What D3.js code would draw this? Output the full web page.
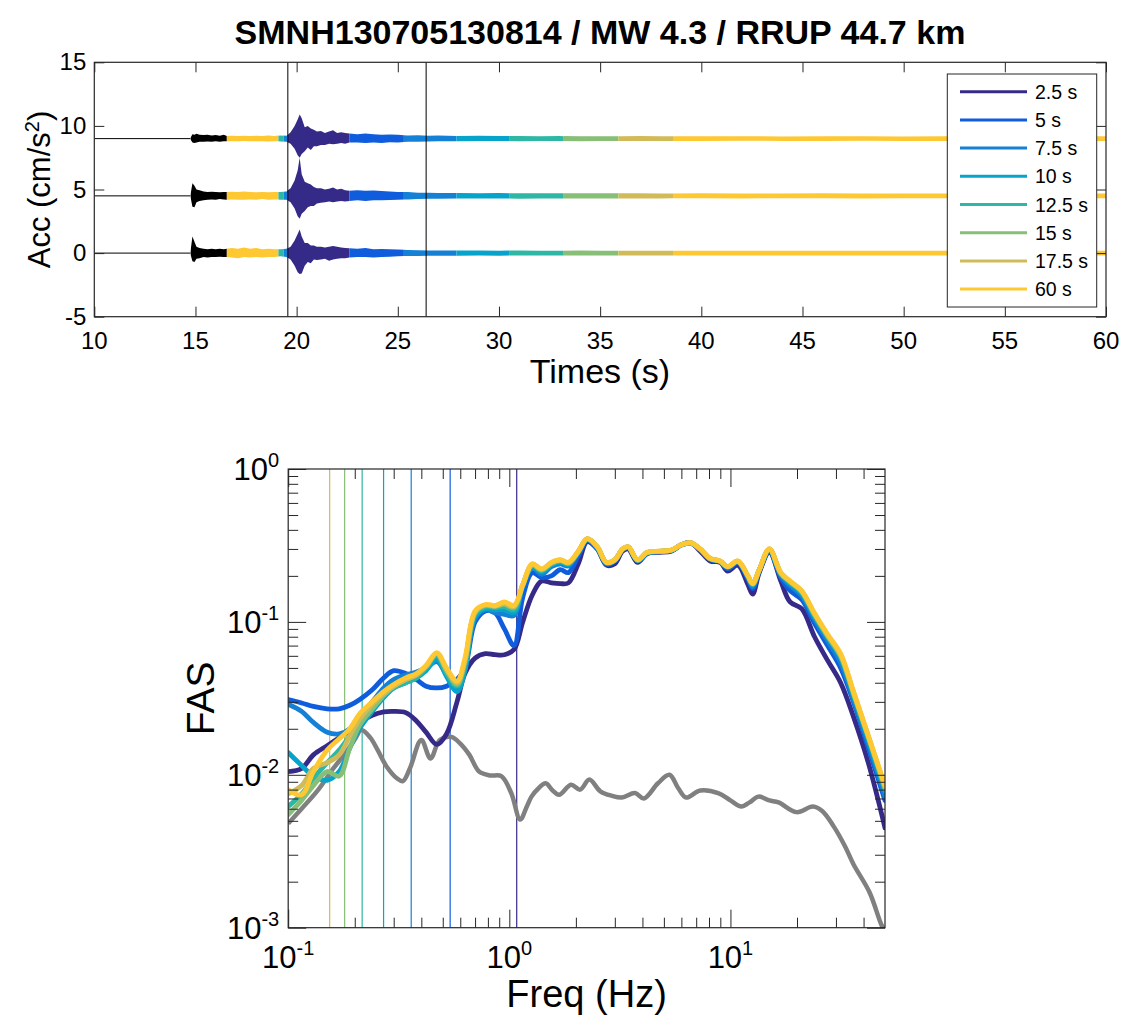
<!DOCTYPE html>
<html><head><meta charset="utf-8">
<script src="https://cdn.jsdelivr.net/npm/d3@7"></script>
<style>
body{margin:0;background:#fff}
text{font-family:"Liberation Sans",Arial,Helvetica,sans-serif;fill:#000}
</style>
</head><body>
<svg id="c" width="1125" height="1015"></svg>
<script>
// ---------------- DATA ----------------
const titleText = "SMNH130705130814 / MW 4.3 / RRUP 44.7 km";
const windowLabels = ["2.5 s","5 s","7.5 s","10 s","12.5 s","15 s","17.5 s","60 s"];
const windowColors = ["#352a87","#0f5cdd","#1481d6","#06a4ca","#2eb7a4","#87bf77","#d1bb59","#fec832"];

// top panel
const timeTicks = [10,15,20,25,30,35,40,45,50,55,60];
const accTicks = [-5,0,5,10,15];
const traceOffsets = [9, 4.5, 0];
const quietSpan = [10, 14.75];
const markerTimes = [19.565, 26.4];
// colour segments along the traces (-1 = raw black signal, otherwise window index)
const segStart = [14.75,16.55,19.1,19.35,19.565,22.6,25.3,27.9,30.5,33.2,35.9,38.6];
const segEnd   = [16.55,19.1,19.35,19.565,22.6,25.3,27.9,30.5,33.2,35.9,38.6,60];
const segWindow= [-1,7,4,2,0,1,2,3,4,5,6,7];

const envT = [14.75,14.85,14.95,15.05,15.2,15.4,15.6,15.8,16.0,16.2,16.4,16.55,16.8,17.1,17.4,17.7,18.0,18.3,18.6,18.9,19.2,19.5,19.7,19.9,20.05,20.15,20.25,20.4,20.55,20.7,20.85,21.0,21.2,21.4,21.6,21.8,22.0,22.2,22.4,22.6,23.0,23.4,23.8,24.2,24.6,25.0,25.5,26.0,26.5,27,28,29,30,31,32,33,34,35,36,37,38,40,42,44,46,48,50,52,54,56,58,60];
const envUp0 = [.05,.35,.3,.38,.3,.28,.3,.25,.28,.22,.3,.2, .22,.2,.22,.2,.22,.2,.25,.2,.25,.22, .5,1.0,1.5,1.9,1.6,.9,1.0,.8,.7,.55,.6,.45,.55,.65,.45,.5,.45,.4, .35,.4,.35,.3,.32,.3,.25,.26,.22,.24, .2,.22,.2,.2,.18,.2,.18,.19,.18,.2,.18,.18,.19,.17,.18,.18,.17,.18,.18,.17,.18,.18];
const envDn0 = [.05,.3,.35,.3,.25,.25,.22,.25,.2,.24,.2,.2, .2,.2,.18,.2,.2,.2,.22,.2,.22,.25, .4,.8,1.3,1.5,1.2,1.0,.7,.9,.6,.6,.5,.5,.4,.45,.4,.35,.4,.3, .3,.35,.3,.35,.28,.3,.25,.24,.22,.2, .2,.18,.18,.2,.18,.18,.2,.18,.18,.18,.19,.18,.17,.18,.18,.17,.18,.18,.17,.18,.18,.18];
const envUp1 = [.05,1.0,.8,.5,.45,.35,.3,.32,.3,.28,.3,.3, .32,.3,.35,.3,.28,.3,.28,.3,.3,.35, .6,1.2,2.0,3.0,1.7,1.1,1.0,.9,.7,.6,.6,.5,.55,.65,.5,.55,.45,.4, .45,.4,.42,.38,.35,.3,.3,.25,.25,.22, .22,.2,.22,.2,.2,.2,.2,.2,.2,.2,.19,.2,.19,.19,.2,.19,.19,.19,.2,.19,.19,.19];
const envDn1 = [.05,.85,.9,.5,.4,.35,.3,.28,.3,.25,.28,.3, .28,.3,.3,.28,.3,.25,.3,.28,.3,.3, .5,1.0,1.6,1.8,1.4,1.2,.9,.8,.8,.6,.55,.5,.45,.5,.45,.4,.45,.4, .35,.4,.35,.35,.32,.3,.28,.25,.22,.22, .2,.2,.2,.22,.2,.2,.2,.2,.2,.2,.2,.19,.2,.19,.19,.2,.19,.19,.19,.19,.2,.19];
const envUp2 = [.08,1.3,.9,.5,.4,.35,.3,.35,.3,.35,.3,.35, .4,.35,.45,.35,.4,.3,.35,.3,.3,.35, .5,1.0,1.5,1.85,1.3,.8,.8,.6,.6,.5,.5,.45,.5,.55,.5,.45,.4,.38, .35,.4,.3,.32,.3,.28,.25,.22,.2,.2, .2,.2,.19,.2,.18,.19,.2,.18,.19,.18,.19,.18,.18,.19,.18,.18,.19,.18,.18,.18,.19,.18];
const envDn2 = [.08,.65,.7,.45,.4,.3,.35,.3,.3,.28,.3,.3, .35,.4,.3,.35,.3,.35,.3,.3,.25,.3, .5,1.0,1.5,1.65,1.6,1.0,.7,.8,.5,.55,.5,.45,.6,.5,.45,.4,.4,.35, .3,.3,.35,.3,.28,.25,.22,.22,.2,.2, .2,.19,.2,.18,.19,.18,.19,.18,.18,.19,.18,.18,.19,.18,.18,.18,.18,.19,.18,.18,.18,.18];

// bottom panel
const fasXMajor = [0.1, 1, 10];
const fasYMajor = [0.001, 0.01, 0.1, 1];
const windowFreq = [1.08, 0.54, 0.36, 0.27, 0.216, 0.18, 0.154];
const freq = [0.1,0.115,0.13,0.15,0.17,0.19,0.21,0.24,0.27,0.3,0.34,0.38,0.42,0.47,0.52,0.58,0.63,0.7,0.78,0.86,0.95,1.05,1.15,1.27,1.4,1.55,1.7,1.85,2.05,2.25,2.5,2.75,3.0,3.25,3.45,3.8,4.2,4.8,5.4,6.0,6.6,7.3,8.1,9.0,9.7,10.8,12.0,12.6,13.5,15.0,16.9,18.6,21,24,27.5,31.5,36,42,50];
const fas2p5 = [0.0105,0.0110,0.0135,0.0155,0.0175,0.0195,0.022,0.0245,0.0258,0.026,0.0255,0.0225,0.019,0.0158,0.0185,0.030,0.046,0.058,0.062,0.061,0.061,0.066,0.100,0.150,0.185,0.180,0.178,0.180,0.240,0.335,0.300,0.235,0.240,0.290,0.300,0.245,0.280,0.285,0.290,0.320,0.330,0.290,0.250,0.245,0.215,0.235,0.175,0.152,0.210,0.285,0.185,0.135,0.122,0.080,0.056,0.040,0.024,0.012,0.0045];
const fas5 = [0.031,0.0295,0.028,0.027,0.027,0.0285,0.031,0.036,0.043,0.048,0.046,0.042,0.038,0.037,0.038,0.042,0.050,0.100,0.118,0.115,0.090,0.070,0.145,0.210,0.195,0.200,0.220,0.210,0.270,0.340,0.300,0.238,0.250,0.295,0.305,0.250,0.280,0.288,0.292,0.318,0.328,0.295,0.255,0.247,0.222,0.243,0.190,0.165,0.215,0.290,0.195,0.160,0.140,0.098,0.070,0.050,0.030,0.015,0.0068];
const fas7p5 = [0.029,0.026,0.022,0.019,0.0185,0.020,0.024,0.030,0.037,0.042,0.045,0.047,0.050,0.055,0.045,0.036,0.050,0.105,0.120,0.115,0.112,0.110,0.170,0.225,0.205,0.230,0.240,0.232,0.282,0.345,0.305,0.242,0.252,0.297,0.307,0.252,0.282,0.288,0.293,0.318,0.328,0.297,0.257,0.248,0.226,0.246,0.195,0.170,0.217,0.292,0.200,0.172,0.148,0.104,0.075,0.054,0.031,0.016,0.0072];
const fas10 = [0.014,0.0115,0.0098,0.0092,0.0105,0.015,0.020,0.026,0.032,0.037,0.040,0.043,0.048,0.057,0.044,0.035,0.048,0.108,0.122,0.120,0.120,0.115,0.172,0.230,0.212,0.236,0.246,0.237,0.285,0.347,0.307,0.243,0.253,0.298,0.308,0.253,0.283,0.289,0.294,0.319,0.329,0.298,0.258,0.249,0.228,0.248,0.197,0.174,0.218,0.296,0.205,0.178,0.153,0.108,0.079,0.058,0.033,0.017,0.0078];
const fas12p5 = [0.0062,0.0075,0.0095,0.012,0.0145,0.018,0.022,0.027,0.033,0.037,0.040,0.043,0.050,0.060,0.046,0.038,0.052,0.112,0.125,0.124,0.126,0.120,0.172,0.233,0.216,0.240,0.250,0.240,0.287,0.348,0.308,0.244,0.254,0.299,0.309,0.254,0.284,0.289,0.294,0.319,0.329,0.299,0.259,0.249,0.229,0.249,0.198,0.176,0.219,0.298,0.207,0.181,0.156,0.110,0.080,0.059,0.034,0.0175,0.008];
const fas15 = [0.0055,0.0068,0.0085,0.0105,0.0098,0.015,0.021,0.027,0.033,0.038,0.042,0.045,0.051,0.062,0.048,0.039,0.055,0.115,0.128,0.126,0.130,0.124,0.174,0.236,0.219,0.242,0.252,0.242,0.288,0.349,0.309,0.244,0.254,0.299,0.309,0.254,0.284,0.289,0.294,0.319,0.329,0.299,0.259,0.249,0.229,0.249,0.199,0.177,0.219,0.299,0.208,0.183,0.158,0.112,0.081,0.060,0.034,0.0178,0.0082];
const fas17p5 = [0.0075,0.0085,0.011,0.012,0.0135,0.018,0.023,0.029,0.034,0.038,0.042,0.045,0.051,0.062,0.049,0.040,0.056,0.116,0.129,0.127,0.132,0.126,0.175,0.238,0.221,0.244,0.254,0.244,0.289,0.350,0.310,0.245,0.255,0.300,0.310,0.255,0.285,0.290,0.295,0.320,0.330,0.300,0.260,0.250,0.230,0.250,0.200,0.178,0.220,0.300,0.209,0.184,0.159,0.113,0.082,0.061,0.035,0.018,0.0084];
const fas60 = [0.0080,0.0074,0.0105,0.0145,0.0172,0.020,0.025,0.030,0.035,0.039,0.043,0.046,0.052,0.063,0.050,0.041,0.058,0.118,0.130,0.128,0.135,0.128,0.175,0.240,0.222,0.245,0.255,0.245,0.290,0.350,0.310,0.245,0.255,0.300,0.310,0.255,0.285,0.290,0.295,0.320,0.330,0.300,0.260,0.250,0.230,0.250,0.200,0.178,0.220,0.300,0.210,0.185,0.160,0.114,0.083,0.062,0.035,0.018,0.0085];
const noiseFreq = [0.1,0.115,0.136,0.16,0.181,0.2,0.214,0.235,0.254,0.279,0.31,0.33,0.355,0.4,0.44,0.485,0.546,0.6,0.66,0.73,0.82,0.92,1.02,1.12,1.2,1.26,1.36,1.46,1.57,1.68,1.9,2.09,2.3,2.58,2.9,3.23,3.7,4.06,4.7,5.3,5.8,6.3,7.3,8.8,10,11.2,12.2,13.4,15,16.5,19.9,23.6,26,29.3,33,36,42.6,48.1,50];
const noiseFas = [0.0048,0.006,0.0079,0.011,0.0138,0.017,0.0196,0.0175,0.0145,0.0113,0.0095,0.0091,0.011,0.0169,0.0128,0.0169,0.0177,0.016,0.0135,0.0105,0.0099,0.0098,0.0076,0.0051,0.0062,0.0072,0.0082,0.0088,0.0079,0.0074,0.0086,0.008,0.0093,0.0078,0.0073,0.0071,0.0076,0.007,0.0088,0.01,0.0082,0.0071,0.0079,0.0076,0.0068,0.0062,0.0066,0.0072,0.0068,0.0066,0.0057,0.0062,0.0058,0.0046,0.0034,0.0026,0.0017,0.00105,0.00095];

// ---------------- DRAW ----------------
const AX = "#262626";
const svg = d3.select("#c");
const defs = svg.append("defs");

svg.append("text").attr("x", 600).attr("y", 44).attr("text-anchor","middle")
  .style("font-size","34px").style("font-weight","bold").text(titleText);

// ===== top panel =====
const tx = d3.scaleLinear().domain([10,60]).range([94.3,1106]);
const ty = d3.scaleLinear().domain([-5,15]).range([316.7,62.3]);
defs.append("clipPath").attr("id","clipTop").append("rect")
  .attr("x",tx(10)).attr("y",ty(15)).attr("width",tx(60)-tx(10)).attr("height",ty(-5)-ty(15));
segStart.forEach((s,i)=>{
  defs.append("clipPath").attr("id","seg"+i).append("rect")
    .attr("x",tx(s)).attr("y",0).attr("width",Math.max(0,tx(segEnd[i])-tx(s))).attr("height",400);
});
const topG = svg.append("g").attr("clip-path","url(#clipTop)");
const ups = [envUp0, envUp1, envUp2], dns = [envDn0, envDn1, envDn2];
traceOffsets.forEach((off,k)=>{
  topG.append("line").attr("x1",tx(quietSpan[0])).attr("x2",tx(quietSpan[1]))
    .attr("y1",ty(off)).attr("y2",ty(off)).attr("stroke","#000").attr("stroke-width",1);
  const pts = envT.map((t,i)=>({t, u: off + ups[k][i], d: off - dns[k][i]}));
  const area = d3.area().x(p=>tx(p.t)).y0(p=>ty(p.d)).y1(p=>ty(p.u));
  segStart.forEach((s,i)=>{
    const col = segWindow[i] < 0 ? "#000" : windowColors[segWindow[i]];
    topG.append("g").attr("clip-path","url(#seg"+i+")")
      .append("path").attr("d", area(pts)).attr("fill", col);
  });
});
markerTimes.forEach(t=>{
  svg.append("line").attr("x1",tx(t)).attr("x2",tx(t)).attr("y1",ty(15)).attr("y2",ty(-5))
    .attr("stroke","#000").attr("stroke-width",1);
});
// axes (inside ticks, mirrored)
function styleAxis(g){ g.select(".domain").remove(); g.selectAll("line").attr("stroke",AX); }
svg.append("g").attr("transform",`translate(0,${ty(-5)})`)
  .call(d3.axisBottom(tx).tickValues(timeTicks).tickSize(-10).tickFormat(""))
  .call(styleAxis);
svg.append("g").attr("transform",`translate(0,${ty(15)})`)
  .call(d3.axisTop(tx).tickValues(timeTicks).tickSize(-10).tickFormat(""))
  .call(styleAxis);
svg.append("g").attr("transform",`translate(${tx(10)},0)`)
  .call(d3.axisLeft(ty).tickValues(accTicks).tickSize(-10).tickFormat(""))
  .call(styleAxis);
svg.append("g").attr("transform",`translate(${tx(60)},0)`)
  .call(d3.axisRight(ty).tickValues(accTicks).tickSize(-10).tickFormat(""))
  .call(styleAxis);
svg.append("rect").attr("x",tx(10)).attr("y",ty(15)).attr("width",tx(60)-tx(10)).attr("height",ty(-5)-ty(15))
  .attr("fill","none").attr("stroke",AX).attr("stroke-width",1.2);
timeTicks.forEach(v=>{
  svg.append("text").attr("x",tx(v)).attr("y",ty(-5)+32).attr("text-anchor","middle")
    .style("font-size","24px").text(v);
});
accTicks.forEach(v=>{
  svg.append("text").attr("x",tx(10)-8).attr("y",ty(v)+8).attr("text-anchor","end")
    .style("font-size","24px").text(v);
});
svg.append("text").attr("x",600).attr("y",383).attr("text-anchor","middle")
  .style("font-size","34px").text("Times (s)");
const yl = svg.append("text").attr("transform",`translate(50,${(ty(15)+ty(-5))/2}) rotate(-90)`)
  .attr("text-anchor","middle").style("font-size","31px");
yl.append("tspan").text("Acc (cm/s");
yl.append("tspan").attr("dy",-11).style("font-size","20px").text("2");
yl.append("tspan").attr("dy",11).text(")");

// legend
const lg = svg.append("g");
lg.append("rect").attr("x",947.3).attr("y",74).attr("width",149.4).attr("height",233)
  .attr("fill","#fff").attr("stroke",AX).attr("stroke-width",1);
windowLabels.forEach((lab,i)=>{
  const y = 91.7 + i*28.2;
  lg.append("line").attr("x1",960).attr("x2",1027).attr("y1",y).attr("y2",y)
    .attr("stroke",windowColors[i]).attr("stroke-width",3);
  lg.append("text").attr("x",1035).attr("y",y+7).style("font-size","19.5px").text(lab);
});

// ===== bottom panel =====
const fx = d3.scaleLog().domain([0.1,50]).range([288.2,885]);
const fy = d3.scaleLog().domain([1e-3,1]).range([927.7,469]);
defs.append("clipPath").attr("id","clipBot").append("rect")
  .attr("x",fx(0.1)).attr("y",fy(1)).attr("width",fx(50)-fx(0.1)).attr("height",fy(1e-3)-fy(1));
const bot = svg.append("g").attr("clip-path","url(#clipBot)");
windowFreq.forEach((f,i)=>{
  bot.append("line").attr("x1",fx(f)).attr("x2",fx(f)).attr("y1",fy(1)).attr("y2",fy(1e-3))
    .attr("stroke",windowColors[i]).attr("stroke-width",1.2);
});
const line = d3.line().x(d=>fx(d[0])).y(d=>fy(d[1])).curve(d3.curveCatmullRom.alpha(0.5));
bot.append("path").attr("d", line(noiseFreq.map((f,i)=>[f,noiseFas[i]])))
  .attr("fill","none").attr("stroke","#808080").attr("stroke-width",4.5).attr("stroke-linejoin","round");
const fasSeries = [fas2p5, fas5, fas7p5, fas10, fas12p5, fas15, fas17p5, fas60];
fasSeries.forEach((s,i)=>{
  bot.append("path").attr("d", line(freq.map((f,j)=>[f,s[j]])))
    .attr("fill","none").attr("stroke",windowColors[i]).attr("stroke-width",4.8)
    .attr("stroke-linejoin","round").attr("stroke-linecap","round");
});
// log ticks
const xMinor = [], yMinor = [];
fasXMajor.forEach(d=>{ for(let m=2;m<=9;m++){ const v=d*m; if(v<50) xMinor.push(v);} });
fasYMajor.slice(0,3).forEach(d=>{ for(let m=2;m<=9;m++) yMinor.push(d*m); });
[[xMinor,10],[fasXMajor,18]].forEach(([vals,len])=>{
  svg.append("g").attr("transform",`translate(0,${fy(1e-3)})`)
    .call(d3.axisBottom(fx).tickValues(vals).tickSize(-len).tickFormat("")).call(styleAxis);
  svg.append("g").attr("transform",`translate(0,${fy(1)})`)
    .call(d3.axisTop(fx).tickValues(vals).tickSize(-len).tickFormat("")).call(styleAxis);
});
[[yMinor,10],[fasYMajor,18]].forEach(([vals,len])=>{
  svg.append("g").attr("transform",`translate(${fx(0.1)},0)`)
    .call(d3.axisLeft(fy).tickValues(vals).tickSize(-len).tickFormat("")).call(styleAxis);
  svg.append("g").attr("transform",`translate(${fx(50)},0)`)
    .call(d3.axisRight(fy).tickValues(vals).tickSize(-len).tickFormat("")).call(styleAxis);
});
svg.append("rect").attr("x",fx(0.1)).attr("y",fy(1)).attr("width",fx(50)-fx(0.1)).attr("height",fy(1e-3)-fy(1))
  .attr("fill","none").attr("stroke",AX).attr("stroke-width",1.2);
function powLabel(x,y,v,anchor){
  const e = Math.round(Math.log10(v));
  const t = svg.append("text").attr("x",x).attr("y",y).attr("text-anchor",anchor).style("font-size","31px");
  t.append("tspan").text("10");
  t.append("tspan").attr("dy",-13).style("font-size","20px").text(String(e));
}
fasXMajor.forEach(v=> powLabel(fx(v), 968, v, "middle"));
fasYMajor.forEach(v=> powLabel(fx(0.1)-9, fy(v)+11, v, "end"));
svg.append("text").attr("x",(fx(0.1)+fx(50))/2).attr("y",1007).attr("text-anchor","middle")
  .style("font-size","38px").text("Freq (Hz)");
svg.append("text").attr("transform",`translate(214,${(fy(1)+fy(1e-3))/2}) rotate(-90)`)
  .attr("text-anchor","middle").style("font-size","39px").text("FAS");
</script>
</body></html>
